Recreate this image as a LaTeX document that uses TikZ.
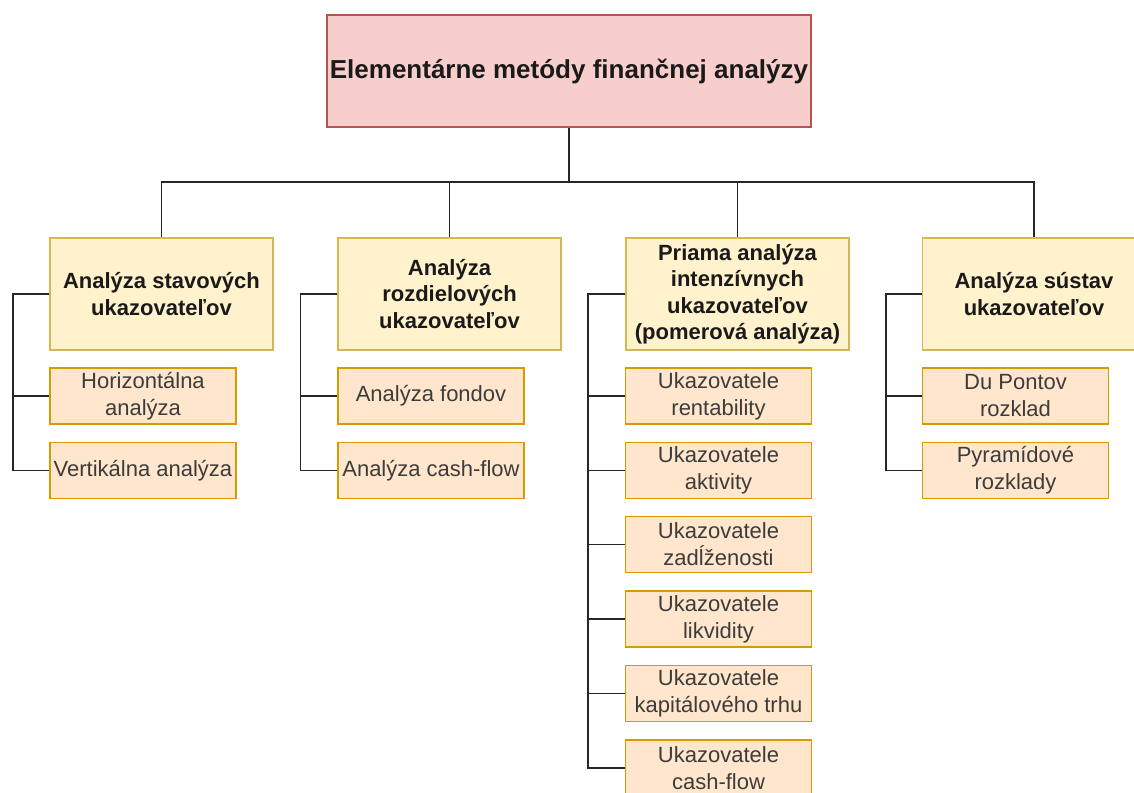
\documentclass[tikz,border=0pt]{standalone}
\usepackage{fontspec}
\setmainfont{Liberation Sans}
\definecolor{topfill}{HTML}{F8CECC}
\definecolor{topdraw}{HTML}{B85450}
\definecolor{catfill}{HTML}{FFF2CC}
\definecolor{catdraw}{HTML}{D6B656}
\definecolor{chfill}{HTML}{FFE6CC}
\definecolor{chdraw}{HTML}{D79B00}
\definecolor{txt}{HTML}{1A1A1A}
\tikzset{
  topbox/.style={draw=topdraw, fill=topfill, line width=1.5pt, minimum width=484pt, minimum height=112pt, align=center, font=\fontsize{26}{31}\selectfont\bfseries, text=txt, inner sep=0pt},
  catbox/.style={draw=catdraw, fill=catfill, line width=1.5pt, minimum width=223pt, minimum height=112pt, align=center, font=\fontsize{22}{26.5}\selectfont\bfseries, text=txt, inner sep=0pt},
  chbox/.style={draw=chdraw, fill=chfill, line width=1.5pt, minimum width=186pt, minimum height=56pt, align=center, font=\fontsize{22}{27}\selectfont, text=txt!85!white, inner sep=0pt},
  conn/.style={draw=black!85, line width=1.5pt}
}
\begin{document}
\begin{tikzpicture}[x=1pt,y=-1pt]
\useasboundingbox (0,0) rectangle (1134,792);
\node[topbox] (top) at (569,71) {Elementárne metódy finančnej analýzy};
\node[catbox] (c1) at (161.5,294) {Analýza stavových\\ukazovateľov};
\node[catbox] (c2) at (449.5,294) {Analýza\\rozdielových\\ukazovateľov};
\node[catbox] (c3) at (737.5,294) {Priama analýza\\intenzívnych\\ukazovateľov\\(pomerová analýza)};
\node[catbox] (c4) at (1034,294) {Analýza sústav\\ukazovateľov};
% children
\node[chbox] (a1) at (143,396) {Horizontálna\\analýza};
\node[chbox] (a2) at (143,470.5) {Vertikálna analýza};
\node[chbox] (b1) at (431,396) {Analýza fondov};
\node[chbox] (b2) at (431,470.5) {Analýza cash-flow};
\node[chbox] (d1) at (718.5,396) {Ukazovatele\\rentability};
\node[chbox] (d2) at (718.5,470.5) {Ukazovatele\\aktivity};
\node[chbox] (d3) at (718.5,544.5) {Ukazovatele\\zadĺženosti};
\node[chbox] (d4) at (718.5,619) {Ukazovatele\\likvidity};
\node[chbox] (d5) at (718.5,693.5) {Ukazovatele\\kapitálového trhu};
\node[chbox] (d6) at (718.5,768) {Ukazovatele\\cash-flow};
\node[chbox] (e1) at (1015.5,396) {Du Pontov\\rozklad};
\node[chbox] (e2) at (1015.5,470.5) {Pyramídové\\rozklady};
% coordinates
\coordinate (bar) at (569,182);
\coordinate (t1) at (13,0);
\coordinate (t2) at (300.5,0);
\coordinate (t3) at (588,0);
\coordinate (t4) at (886,0);
% top connectors
\draw[conn] (top.south) -- (bar);
\draw[conn] (bar) -| (c1.north);
\draw[conn] (bar) -| (c2.north);
\draw[conn] (bar) -| (c3.north);
\draw[conn] (bar) -| (c4.north);
% side connectors
\draw[conn] (c1.west) -- (c1.west -| t1) |- (a1.west);
\draw[conn] (c1.west -| t1) |- (a2.west);
\draw[conn] (c2.west) -- (c2.west -| t2) |- (b1.west);
\draw[conn] (c2.west -| t2) |- (b2.west);
\draw[conn] (c3.west) -- (c3.west -| t3) |- (d1.west);
\draw[conn] (c3.west -| t3) |- (d2.west);
\draw[conn] (c3.west -| t3) |- (d3.west);
\draw[conn] (c3.west -| t3) |- (d4.west);
\draw[conn] (c3.west -| t3) |- (d5.west);
\draw[conn] (c3.west -| t3) |- (d6.west);
\draw[conn] (c4.west) -- (c4.west -| t4) |- (e1.west);
\draw[conn] (c4.west -| t4) |- (e2.west);
\end{tikzpicture}
\end{document}
